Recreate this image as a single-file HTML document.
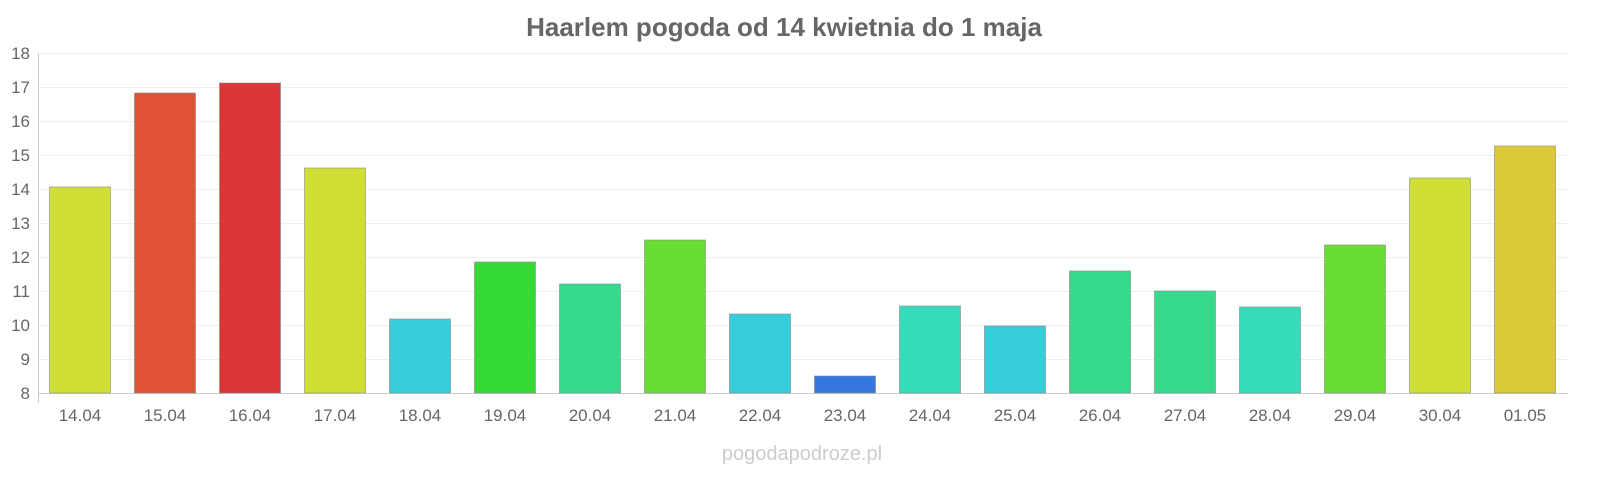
<!DOCTYPE html>
<html><head><meta charset="utf-8"><style>
body{margin:0;background:#fff;}
svg text{font-family:"Liberation Sans",sans-serif;}
</style></head><body>
<svg width="1600" height="480" xmlns="http://www.w3.org/2000/svg">
<rect width="1600" height="480" fill="#fff"/>
<text x="784" y="36" text-anchor="middle" font-size="26" font-weight="bold" fill="#666">Haarlem pogoda od 14 kwietnia do 1 maja</text>
<g stroke="#eee" stroke-width="1">
<line x1="38" x2="1568" y1="53.5" y2="53.5"/><line x1="38" x2="1568" y1="87.5" y2="87.5"/>
<line x1="38" x2="1568" y1="121.5" y2="121.5"/><line x1="38" x2="1568" y1="155.5" y2="155.5"/>
<line x1="38" x2="1568" y1="189.5" y2="189.5"/><line x1="38" x2="1568" y1="223.5" y2="223.5"/>
<line x1="38" x2="1568" y1="257.5" y2="257.5"/><line x1="38" x2="1568" y1="291.5" y2="291.5"/>
<line x1="38" x2="1568" y1="325.5" y2="325.5"/><line x1="38" x2="1568" y1="359.5" y2="359.5"/>
</g>
<line x1="38.5" x2="38.5" y1="53" y2="403" stroke="#ccc"/>
<line x1="38" x2="1568" y1="393.5" y2="393.5" stroke="#ccc"/>
<g font-size="17" fill="#666" text-anchor="end">
<text x="30" y="59">18</text><text x="30" y="93">17</text><text x="30" y="127">16</text><text x="30" y="161">15</text><text x="30" y="195">14</text><text x="30" y="229">13</text><text x="30" y="263">12</text><text x="30" y="297">11</text><text x="30" y="331">10</text><text x="30" y="365">9</text><text x="30" y="399">8</text>
</g>
<g stroke-width="1" stroke-opacity="0.6" stroke="#888">
<rect x="49.5" y="187" width="61" height="206" fill="#cfdf35"/>
<rect x="134.5" y="93" width="61" height="300" fill="#df5235"/>
<rect x="219.5" y="83" width="61" height="310" fill="#dc3535"/>
<rect x="304.5" y="168" width="61" height="225" fill="#cfdf35"/>
<rect x="389.5" y="319" width="61" height="74" fill="#35cdda"/>
<rect x="474.5" y="262" width="61" height="131" fill="#35db35"/>
<rect x="559.5" y="284" width="61" height="109" fill="#35db8a"/>
<rect x="644.5" y="240" width="61" height="153" fill="#68de35"/>
<rect x="729.5" y="314" width="61" height="79" fill="#35cdda"/>
<rect x="814.5" y="376" width="61" height="17" fill="#3577dc"/>
<rect x="899.5" y="306" width="61" height="87" fill="#35dbba"/>
<rect x="984.5" y="326" width="61" height="67" fill="#35cdda"/>
<rect x="1069.5" y="271" width="61" height="122" fill="#35db8a"/>
<rect x="1154.5" y="291" width="61" height="102" fill="#35db8a"/>
<rect x="1239.5" y="307" width="61" height="86" fill="#35dbba"/>
<rect x="1324.5" y="245" width="61" height="148" fill="#68de35"/>
<rect x="1409.5" y="178" width="61" height="215" fill="#cfdf35"/>
<rect x="1494.5" y="146" width="61" height="247" fill="#dbca35"/>
</g>
<g font-size="17" fill="#666" text-anchor="middle">
<text x="80" y="421">14.04</text><text x="165" y="421">15.04</text><text x="250" y="421">16.04</text><text x="335" y="421">17.04</text><text x="420" y="421">18.04</text><text x="505" y="421">19.04</text><text x="590" y="421">20.04</text><text x="675" y="421">21.04</text><text x="760" y="421">22.04</text><text x="845" y="421">23.04</text><text x="930" y="421">24.04</text><text x="1015" y="421">25.04</text><text x="1100" y="421">26.04</text><text x="1185" y="421">27.04</text><text x="1270" y="421">28.04</text><text x="1355" y="421">29.04</text><text x="1440" y="421">30.04</text><text x="1525" y="421">01.05</text>
</g>
<text x="802" y="460" text-anchor="middle" font-size="20" fill="#ccc">pogodapodroze.pl</text>
</svg>
</body></html>
